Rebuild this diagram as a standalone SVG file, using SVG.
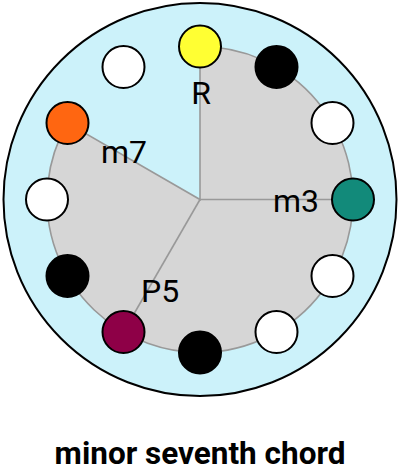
<svg xmlns="http://www.w3.org/2000/svg" width="400" height="469" viewBox="0 0 400 469">
<style>
.pc{stroke:#000;stroke-width:2}
.w{fill:#fff}.b{fill:#000}
.lbl{font-family:Roboto,"Liberation Sans",sans-serif;font-size:32px;fill:#000}
.conn{stroke:#999;stroke-width:1.6;fill:none}
.title{font-family:Roboto,"Liberation Sans",sans-serif;font-size:31.5px;font-weight:bold;fill:#000}
</style>
<g id="clock">
<circle cx="200" cy="199.5" r="196.5" fill="#ccf2fa" stroke="#000" stroke-width="2"/>
<path d="M200,199.5 L200,46.5 A153,153 0 1 1 67.5,123 Z" fill="#d6d6d6" stroke="#999" stroke-width="1.6"/>
</g>
<g id="connectors">
<line class="conn" x1="200" y1="199.5" x2="353" y2="199.5"/>
<line class="conn" x1="200" y1="199.5" x2="123.5" y2="332"/>
</g>
<g id="p0"><circle class="pc" cx="200" cy="46.5" r="21" fill="#ffff33"/></g>
<g id="p1"><circle class="pc b" cx="276.5" cy="67" r="21"/></g>
<g id="p2"><circle class="pc w" cx="332.5" cy="123" r="21"/></g>
<g id="p3"><circle class="pc" cx="353" cy="199.5" r="21" fill="#128a7a"/></g>
<g id="p4"><circle class="pc w" cx="332.5" cy="276" r="21"/></g>
<g id="p5"><circle class="pc w" cx="276.5" cy="332" r="21"/></g>
<g id="p6"><circle class="pc b" cx="200" cy="352.5" r="21"/></g>
<g id="p7"><circle class="pc" cx="123.5" cy="332" r="21" fill="#8e0047"/></g>
<g id="p8"><circle class="pc b" cx="67.5" cy="276" r="21"/></g>
<g id="p9"><circle class="pc w" cx="47" cy="199.5" r="21"/></g>
<g id="p10"><circle class="pc" cx="67.5" cy="123" r="21" fill="#ff6611"/></g>
<g id="p11"><circle class="pc w" cx="123.5" cy="67" r="21"/></g>
<g id="labels">
<text class="lbl" x="201" y="104" text-anchor="middle">R</text>
<text class="lbl" x="101" y="163">m7</text>
<text class="lbl" x="273" y="212">m3</text>
<text class="lbl" x="141" y="302">P5</text>
</g>
<text class="title" x="200" y="464" text-anchor="middle">minor seventh chord</text>
</svg>
